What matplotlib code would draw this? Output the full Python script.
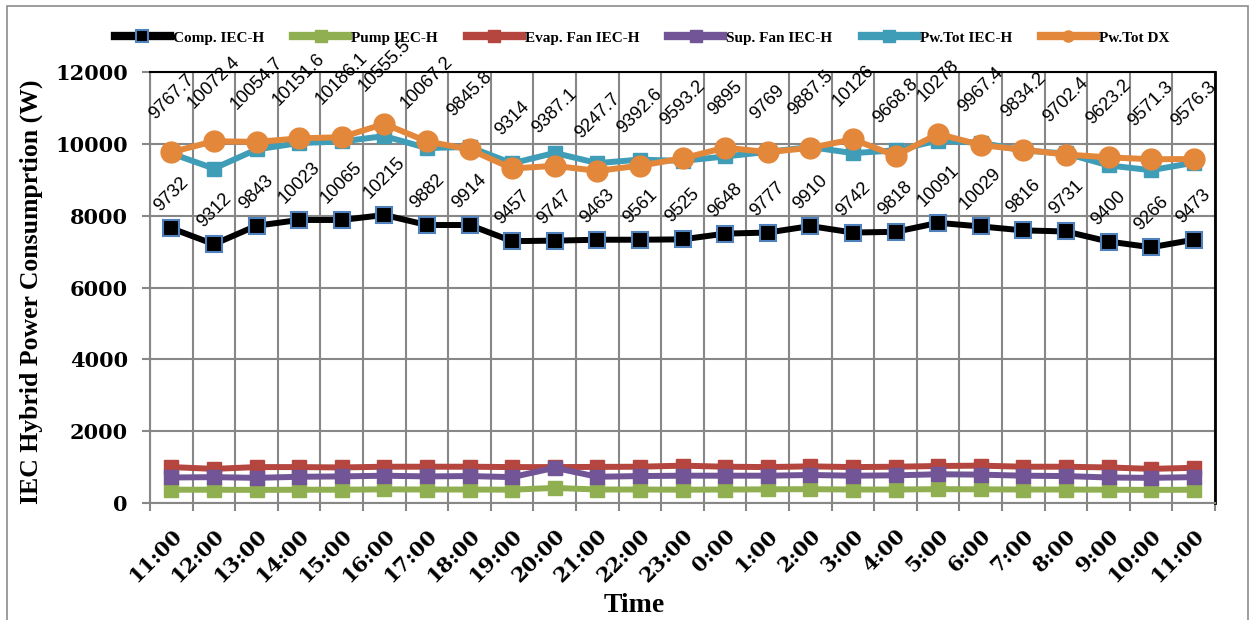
import numpy as np
import matplotlib
matplotlib.use('Agg')
import matplotlib.pyplot as plt
from matplotlib.lines import Line2D
from matplotlib.patches import Rectangle

# hours along the x axis (11:00 one day to 11:00 the next)
times = ['11:00', '12:00', '13:00', '14:00', '15:00', '16:00', '17:00', '18:00',
         '19:00', '20:00', '21:00', '22:00', '23:00', '0:00', '1:00', '2:00',
         '3:00', '4:00', '5:00', '6:00', '7:00', '8:00', '9:00', '10:00', '11:00']

# power readings (W)
comp = [7650, 7205, 7720, 7880, 7880, 8020, 7740, 7740, 7290, 7305, 7330, 7330, 7340,
        7500, 7530, 7710, 7530, 7550, 7800, 7700, 7590, 7560, 7280, 7120, 7330]
pump = [370, 370, 365, 370, 370, 380, 375, 375, 370, 420, 375, 375, 370,
        375, 380, 385, 375, 375, 385, 380, 375, 375, 370, 365, 370]
evap_fan = [1000, 950, 1000, 1000, 990, 1010, 1010, 1010, 1000, 1000, 1005, 1010, 1040,
            1010, 1000, 1020, 1000, 1010, 1030, 1040, 1010, 1010, 990, 950, 980]
sup_fan = [710, 720, 700, 730, 740, 760, 740, 750, 720, 980, 730, 750, 760,
           760, 760, 780, 760, 770, 800, 790, 760, 750, 710, 700, 720]
pw_tot_iec = [9732, 9312, 9843, 10023, 10065, 10215, 9882, 9914, 9457, 9747, 9463, 9561, 9525,
              9648, 9777, 9910, 9742, 9818, 10091, 10029, 9816, 9731, 9400, 9266, 9473]
pw_tot_dx = [9767.7, 10072.4, 10054.7, 10151.6, 10186.1, 10555.5, 10067.2, 9845.8, 9314,
             9387.1, 9247.7, 9392.6, 9593.2, 9895, 9769, 9887.5, 10126, 9668.8, 10278,
             9967.4, 9834.2, 9702.4, 9623.2, 9571.3, 9576.3]
dx_labels = ['9767.7', '10072.4', '10054.7', '10151.6', '10186.1', '10555.5', '10067.2',
             '9845.8', '9314', '9387.1', '9247.7', '9392.6', '9593.2', '9895', '9769',
             '9887.5', '10126', '9668.8', '10278', '9967.4', '9834.2', '9702.4', '9623.2',
             '9571.3', '9576.3']

green = '#8FAF50'
red = '#B4463F'
purple = '#715597'
teal = '#3F9DB8'
orange = '#E3873B'

fig = plt.figure(figsize=(12.55, 6.2), dpi=100)
ax = fig.add_axes([150/1255, 1-503/620, 1065/1255, 431/620])

x = np.arange(len(times))

ax.plot(x, comp, color='black', lw=4.3, marker='s', ms=11.5, mfc='black',
        mec='#4F81BD', mew=1.5, zorder=3)
ax.plot(x, pump, color=green, lw=4.3, marker='s', ms=10, zorder=3)
ax.plot(x, evap_fan, color=red, lw=4.3, marker='s', ms=10, zorder=3)
ax.plot(x, sup_fan, color=purple, lw=4.3, marker='s', ms=10, zorder=3)
ax.plot(x, pw_tot_iec, color=teal, lw=4.3, marker='s', ms=10, zorder=3)
ax.plot(x, pw_tot_dx, color=orange, lw=4.3, marker='o', ms=15, zorder=3)

# data labels
for i in range(len(x)):
    ax.annotate(str(pw_tot_iec[i]), (x[i], comp[i]), xytext=(0, 9.5),
                textcoords='offset points', rotation=45, ha='center', va='bottom',
                fontsize=13.2, family='Liberation Sans', zorder=4)
    ax.annotate(dx_labels[i], (x[i], pw_tot_dx[i]), xytext=(0, 21),
                textcoords='offset points', rotation=45, ha='center', va='bottom',
                fontsize=13.2, family='Liberation Sans', zorder=4)

ax.set_xlim(-0.5, len(x) - 0.5)
ax.set_ylim(0, 12000)
ax.set_yticks(np.arange(0, 12001, 2000))
ax.set_xticks(x)
ax.set_xticklabels(times, rotation=45, ha='right', rotation_mode='anchor',
                   fontsize=15, fontweight='bold', family='DejaVu Serif')
ax.set_xticks(np.arange(-0.5, len(x), 1), minor=True)
ax.tick_params(axis='x', which='major', length=0, pad=16)
ax.tick_params(axis='x', which='minor', length=6, width=1.5, color='#878787')
ax.tick_params(axis='y', length=6, width=1.5, color='#878787', pad=10)
for lab in ax.get_yticklabels():
    lab.set_fontsize(15)
    lab.set_fontweight('bold')
    lab.set_family('DejaVu Serif')

ax.grid(True, axis='y', color='#878787', lw=1.5)
ax.grid(True, axis='x', which='minor', color='#878787', lw=1.5)
ax.set_axisbelow(True)

ax.spines['left'].set_color('#878787')
ax.spines['bottom'].set_color('#878787')
ax.spines['left'].set_linewidth(1.5)
ax.spines['bottom'].set_linewidth(1.5)
ax.spines['top'].set_linewidth(1.5)
ax.spines['right'].set_linewidth(2)

ax.set_ylabel('IEC Hybrid Power Consumprtion (W)', fontsize=18.5, fontweight='bold',
              family='Liberation Serif')
ax.yaxis.set_label_coords(-0.1005, 0.49)
ax.set_xlabel('Time', fontsize=20, fontweight='bold', family='Liberation Serif')
ax.xaxis.set_label_coords(0.455, -0.209)

handles = [
    Line2D([], [], color='black', lw=6, marker='s', ms=8, mfc='black', mec='#4F81BD', mew=1.5),
    Line2D([], [], color=green, lw=6, marker='s', ms=8),
    Line2D([], [], color=red, lw=6, marker='s', ms=8),
    Line2D([], [], color=purple, lw=6, marker='s', ms=8),
    Line2D([], [], color=teal, lw=6, marker='s', ms=8),
    Line2D([], [], color=orange, lw=6, marker='o', ms=8),
]
names = ['Comp. IEC-H', 'Pump IEC-H', 'Evap. Fan IEC-H', 'Sup. Fan IEC-H',
         'Pw.Tot IEC-H', 'Pw.Tot DX']
fig.legend(handles, names, loc='center', bbox_to_anchor=(0.5116, 0.939), ncol=6,
           frameon=False, handlelength=3.6, handletextpad=0.2, columnspacing=1.9,
           prop={'family': 'Liberation Serif', 'weight': 'bold', 'size': 11})

# outer chart frame
fig.patches.append(Rectangle((7/1255, -0.05), 1241/1255, 1.05 - 6/620,
                             transform=fig.transFigure, fill=False,
                             edgecolor='#8C8C8C', lw=1.2))

fig.savefig('out.png', dpi=100)
